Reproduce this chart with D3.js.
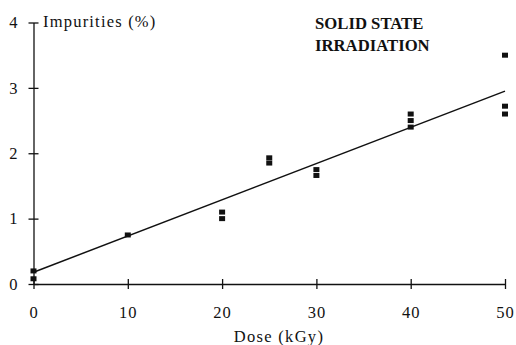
<!DOCTYPE html>
<html><head><meta charset="utf-8">
<script src="https://cdn.jsdelivr.net/npm/d3@7"></script>
<style>body{margin:0;background:#fff}svg{display:block}text{font-family:"Liberation Serif","Times New Roman",serif;fill:#111}</style>
</head><body>
<script>
const doseX = [0, 0, 10, 20, 20, 25, 25, 30, 30, 40, 40, 40, 50, 50, 50];
const impurityY = [0.2, 0.08, 0.75, 1.1, 1.0, 1.93, 1.85, 1.75, 1.66, 2.6, 2.5, 2.4, 3.5, 2.72, 2.6];
const fitX = [0, 50];
const fitY = [0.18, 2.95];
const xTicks = [0, 10, 20, 30, 40, 50];
const yTicks = [0, 1, 2, 3, 4];
const titleLines = ["SOLID STATE", "IRRADIATION"];

const W = 516, H = 345;
const svg = d3.select("body").append("svg").attr("width", W).attr("height", H);
const x = d3.scaleLinear().domain([0, 50]).range([33.5, 505]);
const y = d3.scaleLinear().domain([0, 4]).range([284, 22.5]);

const xAxis = d3.axisBottom(x).tickValues(xTicks).tickSize(0).tickPadding(22).tickFormat(d3.format("d"));
const gx = svg.append("g").attr("transform", `translate(0,${y(0)})`).call(xAxis);
gx.select(".domain").attr("stroke", "#111").attr("stroke-width", 1.3);
gx.selectAll(".tick").append("line").attr("y1", -5).attr("y2", 5).attr("stroke", "#111").attr("stroke-width", 1.3);
gx.selectAll("text").attr("font-size", 16.5).attr("letter-spacing", 1).attr("fill", "#111");

const yAxis = d3.axisLeft(y).tickValues(yTicks).tickSize(0).tickPadding(16).tickFormat(d3.format("d"));
const gy = svg.append("g").attr("transform", `translate(${x(0)},0)`).call(yAxis);
gy.select(".domain").attr("stroke", "#111").attr("stroke-width", 1.3);
gy.selectAll(".tick").append("line").attr("x1", -5).attr("x2", 5).attr("stroke", "#111").attr("stroke-width", 1.3);
gy.selectAll("text").attr("font-size", 16.5).attr("fill", "#111");

svg.append("path")
  .datum(fitX.map((d, i) => [d, fitY[i]]))
  .attr("d", d3.line().x(d => x(d[0])).y(d => y(d[1])))
  .attr("fill", "none").attr("stroke", "#111").attr("stroke-width", 1.5);

svg.append("g").selectAll("rect")
  .data(doseX.map((d, i) => [d, impurityY[i]]))
  .join("rect")
  .attr("x", d => x(d[0]) - 3).attr("y", d => y(d[1]) - 2.5)
  .attr("width", 6).attr("height", 5).attr("fill", "#111");

svg.append("text").attr("x", 43).attr("y", 27).attr("font-size", 16.5).attr("letter-spacing", 1.2).text("Impurities (%)");
svg.append("text").attr("x", 279).attr("y", 342).attr("text-anchor", "middle").attr("font-size", 16.5).attr("letter-spacing", 1.3).text("Dose (kGy)");

svg.append("g").selectAll("text").data(titleLines).join("text")
  .attr("x", 315).attr("y", (d, i) => 29 + i * 22)
  .attr("font-size", 16.7).attr("font-weight", "bold").text(d => d);
</script>
</body></html>
